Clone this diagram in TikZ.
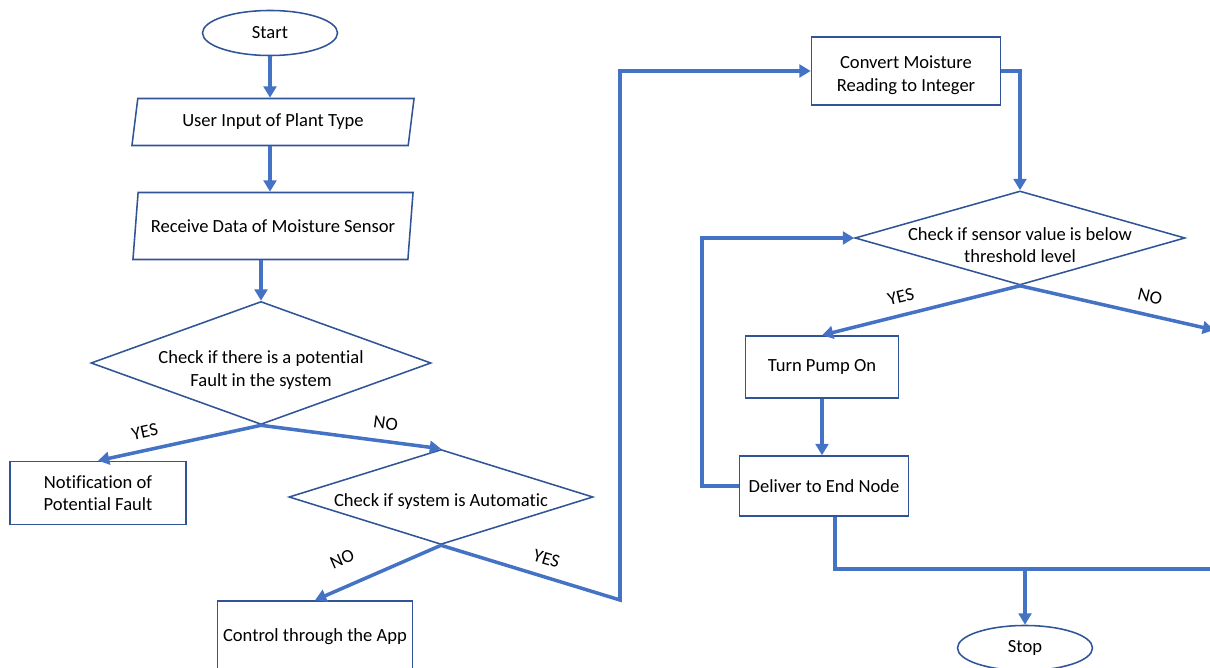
\documentclass[tikz,border=0pt]{standalone}
\usepackage{fontspec}
\setmainfont{Carlito}[Ligatures=NoCommon]
\usetikzlibrary{shapes.geometric,arrows.meta,calc}
\definecolor{flowline}{RGB}{68,114,196}
\definecolor{flowedge}{RGB}{47,85,151}

\begin{document}
\begin{tikzpicture}[x=0.025cm, y=-0.025cm,
  font=\fontsize{13.2}{16}\selectfont,
  terminal/.style={ellipse, draw=flowedge, line width=1.1pt, minimum width=3.375cm, minimum height=1.125cm},
  io/.style={trapezium, trapezium left angle=77, trapezium right angle=103, trapezium stretches body, draw=flowedge, line width=1.1pt},
  process/.style={rectangle, draw=flowedge, line width=1.1pt, align=center},
  decision/.style={diamond, draw=flowedge, line width=1.1pt, inner sep=0pt},
  flow/.style={draw=flowline, line width=2.5pt, -{Triangle[length=8pt,width=9pt]}},
  yesno/.style={sloped, above=4pt}]
\useasboundingbox (0,0) rectangle (1210,668);
\clip (0,0) rectangle (1210,668);

\node[terminal] (start) at (270,33) {Start};
\node[io, minimum width=7.05cm, minimum height=1.175cm] (plant) at (273,122) {User Input of Plant Type};
\node[io, minimum width=7cm, minimum height=1.675cm] (sensor) at (273,226) {Receive Data of Moisture Sensor};
\node[decision, minimum width=8.5cm, minimum height=3.075cm, label={[align=center,yshift=-5pt]center:Check if there is a potential\\Fault in the system}] (fault) at (261,363) {};
\node[process, minimum width=4.4cm, minimum height=1.575cm] (note) at (98,493) {Notification of\\Potential Fault};
\node[decision, minimum width=7.6cm, minimum height=2.375cm, label={[yshift=-3pt]center:Check if system is Automatic}] (auto) at (441,497) {};
\node[process, minimum width=4.875cm, minimum height=1.8cm] (app) at (315,637) {Control through the App};
\node[process, minimum width=4.725cm, minimum height=1.7cm, label={[align=center,yshift=-3pt]center:Convert Moisture\\Reading to Integer}] (conv) at (906,71) {};
\node[decision, minimum width=8.25cm, minimum height=2.35cm, label={[align=center,yshift=-5pt]center:Check if sensor value is below\\threshold level}] (level) at (1020,238) {};
\node[process, minimum width=3.825cm, minimum height=1.55cm] (pump) at (822,367) {Turn Pump On};
\node[process, minimum width=4.225cm, minimum height=1.5cm] (deliver) at (824,486) {Deliver to End Node};
\node[terminal] (stop) at (1025,648) {Stop};

\coordinate (bend) at (620,600);
\coordinate (loop) at (702,486);
\coordinate (drop) at (835,569);
\coordinate (offright) at (1214,330);
\coordinate (offbottom) at (1214,569);

\draw[flow] (start) -- (start |- plant.north);
\draw[flow] (start |- plant.south) -- (start |- sensor.north);
\draw[flow] (fault.north |- sensor.south) -- (fault.north);
\draw[flow] (fault.south) -- node[yesno, pos=0.69] {YES} (note.north);
\draw[flow] (fault.south) -- node[yesno, pos=0.68] {NO} (auto.north);
\draw[flow] (auto.south) -- node[yesno, pos=0.7, above=6pt] {NO} (app.north);
\draw[flow] (auto.south) -- node[yesno, pos=0.56] {YES} (bend) |- (conv.west);
\draw[flow] (conv.east) -| (level.north);
\draw[flow] (level.south) -- node[yesno, pos=0.58] {YES} (pump.north);
\draw[flow] (level.south) -- node[yesno, pos=0.65] {NO} (offright);
\draw[flow] (pump.south) -- (pump.south |- deliver.north);
\draw[flow] (deliver.west) -- (loop) |- (level.west);
\draw[flow, -] (deliver.south -| drop) -- (drop) -- (offbottom);
\draw[flow] (stop.north |- drop) -- (stop.north);
\end{tikzpicture}
\end{document}
